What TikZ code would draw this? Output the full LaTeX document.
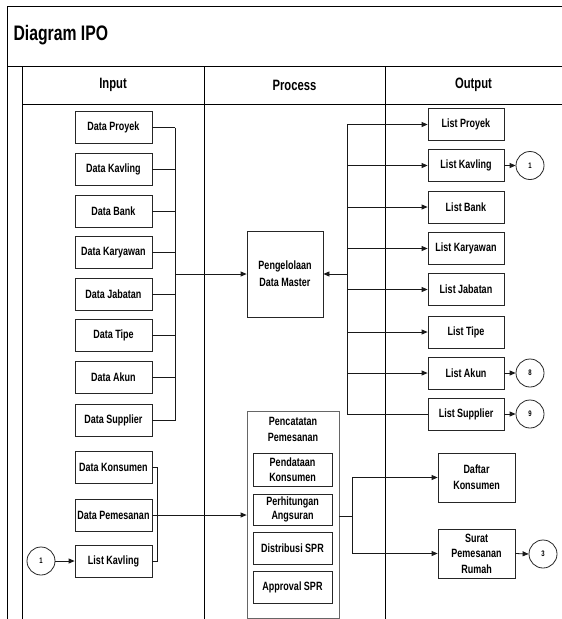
\documentclass[tikz,border=0pt]{standalone}
\usepackage{fontspec}
\setmainfont{Liberation Sans}[FakeStretch=0.75]
\usetikzlibrary{arrows.meta}

\tikzset{
  frame/.style={line width=0.8pt, black},
  box/.style={draw=black!85, line width=0.8pt, align=center, inner sep=1pt,
    minimum height=32pt, font=\bfseries\fontsize{12}{16}\selectfont},
  inbox/.style={box, minimum width=77pt},
  outbox/.style={box, minimum width=76pt},
  subbox/.style={box, minimum width=79pt, font=\bfseries\fontsize{12}{14.5}\selectfont},
  conn/.style={draw=black!90, line width=0.8pt},
  arr/.style={conn, -{Triangle[length=6pt,width=5pt]}},
  ref/.style={draw=black!85, line width=0.8pt, circle, minimum size=28pt,
    inner sep=0pt, font=\bfseries\fontsize{8}{8}\selectfont},
  head/.style={font=\bfseries\fontsize{15}{17}\selectfont}
}

\begin{document}
\begin{tikzpicture}[x=1pt, y=-1pt]
  \useasboundingbox (0,0) rectangle (562,619);

  % table frame
  \draw[frame] (562,6) -- (7,6) -- (7,619);
  \draw[frame] (7,66) -- (562,66);
  \draw[frame] (22,66) -- (22,619);
  \draw[frame] (22,104) -- (562,104);
  \draw[frame] (204,66) -- (204,619);
  \draw[frame] (385,66) -- (385,619);

  \node[anchor=west, font=\bfseries\fontsize{21}{24}\selectfont] (title) at (10,35) {Diagram IPO};
  \node[head] (hin) at (113,85) {Input};
  \node[head] (hpr) at (294.5,85) {Process};
  \node[head] (hout) at (473.5,85) {Output};

  % master data inputs
  \node[inbox] (dproyek) at (113.5,127.5) {Data Proyek};
  \node[inbox] (dkavling) at (113.5,169.5) {Data Kavling};
  \node[inbox] (dbank) at (113.5,211) {Data Bank};
  \node[inbox] (dkaryawan) at (113.5,252.5) {Data Karyawan};
  \node[inbox] (djabatan) at (113.5,294) {Data Jabatan};
  \node[inbox] (dtipe) at (113.5,335) {Data Tipe};
  \node[inbox] (dakun) at (113.5,377) {Data Akun};
  \node[inbox] (dsupplier) at (113.5,420.5) {Data Supplier};

  % booking inputs
  \node[inbox] (dkonsumen) at (113.5,467.5) {Data Konsumen};
  \node[inbox] (dpemesanan) at (113.5,515) {Data Pemesanan};
  \node[inbox] (lkavlingin) at (113.5,561) {List Kavling};
  \node[ref] (c1in) at (41,561) {1};

  % processes
  \node[box, minimum width=76pt, minimum height=86pt, font=\bfseries\fontsize{12}{17}\selectfont] (master) at (285,274) {Pengelolaan\\Data Master};
  \node[draw=black!60, line width=0.8pt, minimum width=92pt, minimum height=207pt] (pencatatan) at (293,514.5) {};
  \node[font=\bfseries\fontsize{12}{16}\selectfont, align=center] (pentitle) at (293,429) {Pencatatan\\Pemesanan};
  \node[subbox, minimum height=33pt] (pendataan) at (292.5,469.5) {Pendataan\\Konsumen};
  \node[subbox, minimum height=31pt] (perhitungan) at (292.5,509.5) {Perhitungan\\Angsuran};
  \node[subbox] (distribusi) at (292.5,548.5) {Distribusi SPR};
  \node[subbox] (approval) at (292.5,587.5) {Approval SPR};

  % master data outputs
  \node[outbox] (lproyek) at (466,124.5) {List Proyek};
  \node[outbox] (lkavling) at (466,165.5) {List Kavling};
  \node[outbox] (lbank) at (466,207) {List Bank};
  \node[outbox] (lkaryawan) at (466,248.5) {List Karyawan};
  \node[outbox] (ljabatan) at (466,289.5) {List Jabatan};
  \node[outbox] (ltipe) at (466,332) {List Tipe};
  \node[outbox] (lakun) at (466,373) {List Akun};
  \node[outbox] (lsupplier) at (466,414) {List Supplier};
  \node[ref] (c1) at (530,165.5) {1};
  \node[ref] (c8) at (530,373) {8};
  \node[ref] (c9) at (530,414) {9};

  % booking outputs
  \node[box, minimum width=77pt, minimum height=49pt] (daftar) at (476.5,477.5) {Daftar\\Konsumen};
  \node[box, minimum width=77pt, minimum height=49pt, font=\bfseries\fontsize{12}{15.5}\selectfont] (surat) at (476.5,553.5) {Surat\\Pemesanan\\Rumah};
  \node[ref] (c3) at (543,554) {3};

  % input bus into Pengelolaan Data Master
  \coordinate (busin) at (175,0);
  \foreach \n in {dproyek,dkavling,dbank,dkaryawan,djabatan,dtipe,dakun,dsupplier}
    \draw[conn] (\n.east) -- (\n.east -| busin);
  \draw[conn] (dproyek.east -| busin) -- (dsupplier.east -| busin);
  \draw[arr] (master.west -| busin) -- (master.west);

  % output bus from Pengelolaan Data Master
  \coordinate (busout) at (347,0);
  \draw[conn] (lproyek.west -| busout) -- (lsupplier.west -| busout);
  \foreach \n in {lproyek,lkavling,lbank,lkaryawan,ljabatan,ltipe,lakun}
    \draw[arr] (\n.west -| busout) -- (\n.west);
  \draw[conn] (lsupplier.west -| busout) -- (lsupplier.west);
  \draw[arr] (master.east -| busout) -- (master.east);
  \draw[arr] (lkavling.east) -- (c1.west);
  \draw[arr] (lakun.east) -- (c8.west);
  \draw[arr] (lsupplier.east) -- (c9.west);

  % booking inputs into Pencatatan Pemesanan
  \coordinate (busb) at (157,0);
  \draw[conn] (dkonsumen.east) -| (busb |- lkavlingin.east) -- (lkavlingin.east);
  \draw[arr] (c1in.east) -- (lkavlingin.west);
  \draw[arr] (dpemesanan.east) -- (dpemesanan.east -| pencatatan.west);

  % Pencatatan Pemesanan outputs
  \coordinate (busc) at (352,516);
  \draw[conn] (pencatatan.east |- busc) -- (busc);
  \draw[conn] (busc |- daftar.west) -- (busc |- surat.west);
  \draw[arr] (busc |- daftar.west) -- (daftar.west);
  \draw[arr] (busc |- surat.west) -- (surat.west);
  \draw[arr] (surat.east) -- (c3.west);
\end{tikzpicture}
\end{document}
